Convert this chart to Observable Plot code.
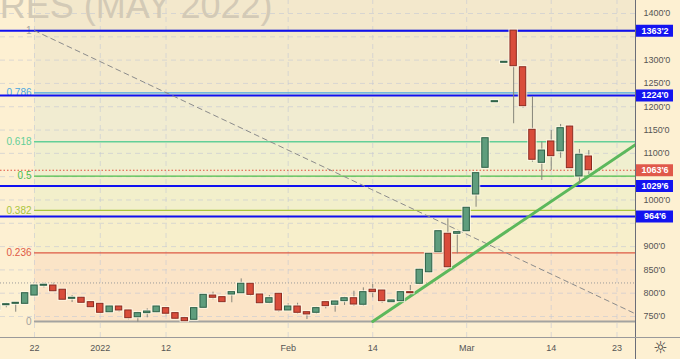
<!DOCTYPE html>
<html><head><meta charset="utf-8">
<script src="https://cdn.jsdelivr.net/npm/d3@7"></script>
<script src="https://cdn.jsdelivr.net/npm/@observablehq/plot@0.6"></script>
<style>
html,body{margin:0;padding:0;background:#fdf0d2;}
#chart svg{display:block}
</style></head><body><div id="chart"></div>
<script>
// ---------- data ----------
const dates = ["2021-12-16","2021-12-17","2021-12-20","2021-12-21","2021-12-22","2021-12-23","2021-12-27","2021-12-28","2021-12-29","2021-12-30","2021-12-31",
"2022-01-03","2022-01-04","2022-01-05","2022-01-06","2022-01-07","2022-01-10","2022-01-11","2022-01-12","2022-01-13","2022-01-14","2022-01-18","2022-01-19","2022-01-20","2022-01-21","2022-01-24","2022-01-25","2022-01-26","2022-01-27","2022-01-28","2022-01-31",
"2022-02-01","2022-02-02","2022-02-03","2022-02-04","2022-02-07","2022-02-08","2022-02-09","2022-02-10","2022-02-11","2022-02-14","2022-02-15","2022-02-16","2022-02-17","2022-02-18","2022-02-22","2022-02-23","2022-02-24","2022-02-25","2022-02-28",
"2022-03-01","2022-03-02","2022-03-03","2022-03-04","2022-03-07","2022-03-08","2022-03-09","2022-03-10","2022-03-11","2022-03-14","2022-03-15","2022-03-16","2022-03-17","2022-03-18"];
const open  = [764.5,774.25,777.25,777.25,795,816,816.5,807.5,788,790.25,780.75,
777.25,759.25,771.5,763,748.5,757.25,759.25,768,757.25,746.5,743,768.75,795,791.5,797.25,800,820.25,797.25,779.5,798.75,
763,771.5,759.25,758,780.75,775.25,783,789.25,775.25,807.5,805.75,780.75,783,802.25,820.25,845,888,927.5,927.5,
933,1011.75,1069,1209.75,1294.25,1363.25,1284.75,1150.5,1079.75,1125.5,1104.5,1157.5,1050.5,1093.25];
const high  = [777,778.5,779,801,817.5,821.5,821.5,808,795,791.5,782,
778.5,772.5,772,763.5,759.25,766.5,772.5,769,758,748.5,769,797.5,802.25,792,803,830.75,821,798,795,800,
777.25,778.5,760,770,781.5,784.5,791.5,804.25,811.5,818.75,807,785.5,803,816.5,852,886,934,959.5,931.5,
984,1058.5,1133.5,1209.75,1294.25,1363.25,1285,1222,1124,1149,1162,1160,1108.25,1106];
const low   = [761,768.75,759.25,776,794,811.5,803,785,780,778.5,769,
755,758.5,759.25,743,738,747.25,758,751.5,744,738,742,768,786,780,779.5,799,793,777.5,777.25,759.25,
762,754.5,743.5,754.5,766.5,759.25,773.75,771.5,771.5,790.25,778.5,780,782,795,818,842.25,887,854,884.5,
932,984.5,1068,1209.75,1294.25,1163.5,1197,1081,1041.75,1063.25,1089.5,1067,1033.25,1054.75];
const close = [773.75,775,778.5,800,816.5,817,804.25,786,788.5,779.5,770,
758,771.5,763,746.5,757.25,760.75,771.5,756,745.25,740,768,796.5,790.25,780.75,802.25,820.25,796.5,778.5,789.25,763,
771.5,758,754.5,768,772.25,782.25,789.25,775.75,802.25,802.25,783,784.5,802.25,800,850.25,884.5,933,855.75,931,
983.25,1057.5,1132.5,1209.75,1294.25,1287,1201.25,1086.25,1106,1094,1154,1068.25,1097,1063.75];
const futureDates = ["2022-03-21","2022-03-22","2022-03-23","2022-03-24","2022-03-25"];

const tickDates  = ["2021-12-22","2022-01-03","2022-01-12","2022-02-01","2022-02-14","2022-03-01","2022-03-14","2022-03-23"];
const tickLabels = ["22","2022","12","Feb","14","Mar","14","23"];
const priceTicks = [750,800,850,900,950,1000,1050,1100,1150,1200,1250,1300,1350,1400];

const fibLevels = [0,0.236,0.382,0.5,0.618,0.786,1];
const fibLabels = ["0","0.236","0.382","0.5","0.618","0.786","1"];
const fibColors = ["#a3a3a0","#dd5a45","#a9c53c","#4cbd4c","#63cf98","#4aa6e0","#a3a3a0"];
const fibZoneColors = ["#fbe4c7","#f7efcb","#f2efcb","#f0efcf","#f1ecd1","#f3e9cd"];
const fibAboveColor = "#f3e8cc";
const fibLow = 739.4, fibHigh = 1363.25, fibStartDate = "2021-12-22";

const levelPrices = [1363.25, 1224, 1029.75, 964.75];
const lastPrice = 1063.75;
const refPrice = 822;

const trendDates = ["2022-02-14","2022-03-25"];
const trendPrices = [739.4, 1119];
const diagDates = ["2021-12-22","2022-03-25"];
const diagPrices = [1363.25, 755.5];

const watermark = "WHEAT FUTURES (MAY 2022)";

// ---------- layout ----------
const W = 680, H = 359, mR = 45, mB = 22;
const xDomain = [-3.62, 63.97];
const yDomain = [705, 1427.9];
const pxToX = px => xDomain[0] + px / (W - mR) * (xDomain[1] - xDomain[0]);
const pxToY = py => yDomain[1] - py / (H - mB) * (yDomain[1] - yDomain[0]);

const allDates = dates.concat(futureDates);
const X0 = allDates.indexOf("2021-12-22");
const idx = d => allDates.indexOf(d) - X0;

const candles = dates.map((d, k) => ({i: idx(d), o: open[k], h: high[k], l: low[k], c: close[k], up: close[k] >= open[k]}));
const up = candles.filter(d => d.up), down = candles.filter(d => !d.up);

const fmt = v => { const w = Math.floor(v); const e = Math.round((v - w) * 8); return `${w}'${e}`; };

const fibP = fibLevels.map(l => fibLow + l * (fibHigh - fibLow));
const fibLines = fibLevels.map((l, k) => ({p: fibP[k], label: fibLabels[k], color: fibColors[k]}));
const zones = fibZoneColors.map((c, k) => ({p1: fibP[k], p2: fibP[k + 1], color: c}));
zones.push({p1: fibHigh, p2: yDomain[1], color: fibAboveColor});
const fx0 = idx(fibStartDate);

const trend = trendDates.map((d, k) => ({i: idx(d), p: trendPrices[k]}));
const diag = diagDates.map((d, k) => ({i: idx(d), p: diagPrices[k]}));
const tickIdx = tickDates.map(idx);

// axis labels hidden behind the price boxes are not drawn
const boxPrices = levelPrices.concat([lastPrice]);
const shownTicks = priceTicks.filter(t => boxPrices.every(b => Math.abs(b - t) > 20));

const bodyY1 = d => Math.min(d.o, d.c);
const bodyY2 = d => Math.max(Math.max(d.o, d.c), Math.min(d.o, d.c) + 2.2);
const hw = 0.34;

const chart = Plot.plot({
  width: W, height: H,
  marginTop: 0, marginLeft: 0, marginRight: mR, marginBottom: mB,
  x: {domain: xDomain},
  y: {domain: yDomain},
  style: {background: "#fdf0d2", fontFamily: "'Liberation Sans', Arial, sans-serif"},
  marks: [
    ...zones.map(z => Plot.rect([z], {x1: fx0, x2: xDomain[1], y1: "p1", y2: "p2", fill: z.color})),
    Plot.ruleY(priceTicks, {x1: xDomain[0], x2: xDomain[1], stroke: "#c4c8d4", strokeOpacity: 0.6, strokeDasharray: "5,4"}),
    Plot.ruleX(tickIdx, {y1: yDomain[0], y2: yDomain[1], stroke: "#c4c8d4", strokeOpacity: 0.6, strokeDasharray: "5,4"}),
    Plot.text([watermark], {frameAnchor: "top-left", text: d => d, textAnchor: "end", lineAnchor: "bottom", dx: 272, dy: 17, fontSize: 36, fill: "#d3cab6"}),
    ...fibLines.map(f => Plot.ruleY([f], {y: "p", x1: fx0, x2: xDomain[1], stroke: f.color, strokeWidth: (f.label === "0" || f.label === "1") ? 2 : 1.3})),
    Plot.text(fibLines, {x: fx0, y: "p", text: "label", textAnchor: "end", dx: -3, fontSize: 10, fill: d => d.color}),
    Plot.ruleY([refPrice], {x1: xDomain[0], x2: xDomain[1], stroke: "#9a9a9a", strokeDasharray: "1,2"}),
    Plot.ruleY(levelPrices, {x1: xDomain[0], x2: xDomain[1], stroke: "#1010f0", strokeWidth: 2}),
    Plot.ruleY([lastPrice], {x1: xDomain[0], x2: xDomain[1], stroke: "#e0503f", strokeDasharray: "1.5,2"}),
    Plot.line(diag, {x: "i", y: "p", stroke: "#8c8c8c", strokeDasharray: "5,4", strokeWidth: 1, clip: true}),
    Plot.line(trend, {x: "i", y: "p", stroke: "#5cb85c", strokeWidth: 3, clip: true}),
    Plot.ruleX(candles, {x: "i", y1: "l", y2: "h", stroke: "#85857a", strokeWidth: 1, clip: true}),
    Plot.rect(candles, {x1: d => d.i - hw, x2: d => d.i + hw, y1: bodyY1, y2: bodyY2, fill: "#fffaea", fillOpacity: 0.8,
      insetLeft: -1.5, insetRight: -1.5, insetTop: -1.5, insetBottom: -1.5, clip: true}),
    Plot.rect(up, {x1: d => d.i - hw, x2: d => d.i + hw, y1: bodyY1, y2: bodyY2, fill: "#5f9d7d", stroke: "#2d6147", strokeWidth: 1, clip: true}),
    Plot.rect(down, {x1: d => d.i - hw, x2: d => d.i + hw, y1: bodyY1, y2: bodyY2, fill: "#d94d3b", stroke: "#8c2b1f", strokeWidth: 1, clip: true}),
    Plot.axisY({anchor: "right", ticks: shownTicks, tickFormat: fmt, tickSize: 0, tickPadding: 8, fontSize: 9, fill: "#555", label: null}),
    Plot.axisX({anchor: "bottom", ticks: tickIdx, tickFormat: d => tickLabels[tickIdx.indexOf(d)], tickSize: 0, tickPadding: 7, fontSize: 9, fill: "#555", label: null}),
    Plot.ruleX([xDomain[1]], {y1: pxToY(H), y2: pxToY(0), stroke: "#6a6d78", strokeWidth: 1}),
    Plot.ruleY([yDomain[0]], {x1: xDomain[0], x2: pxToX(W), stroke: "#9a9a9a", strokeWidth: 1}),
    Plot.ruleY(levelPrices, {x1: pxToX(636), x2: pxToX(673), stroke: "#1414f0", strokeWidth: 12}),
    Plot.ruleY([lastPrice], {x1: pxToX(636), x2: pxToX(673), stroke: "#e0584a", strokeWidth: 12}),
    Plot.text(boxPrices, {x: pxToX(654.5), y: d => d, text: fmt, fill: "white", fontWeight: "bold", fontSize: 9}),
    Plot.text(["\u263C"], {frameAnchor: "bottom-right", text: d => d, textAnchor: "middle", lineAnchor: "middle", dx: 25, dy: 10, fontSize: 16, fill: "#333", fontFamily: "DejaVu Sans"})
  ]
});
document.getElementById("chart").appendChild(chart);
</script></body></html>
